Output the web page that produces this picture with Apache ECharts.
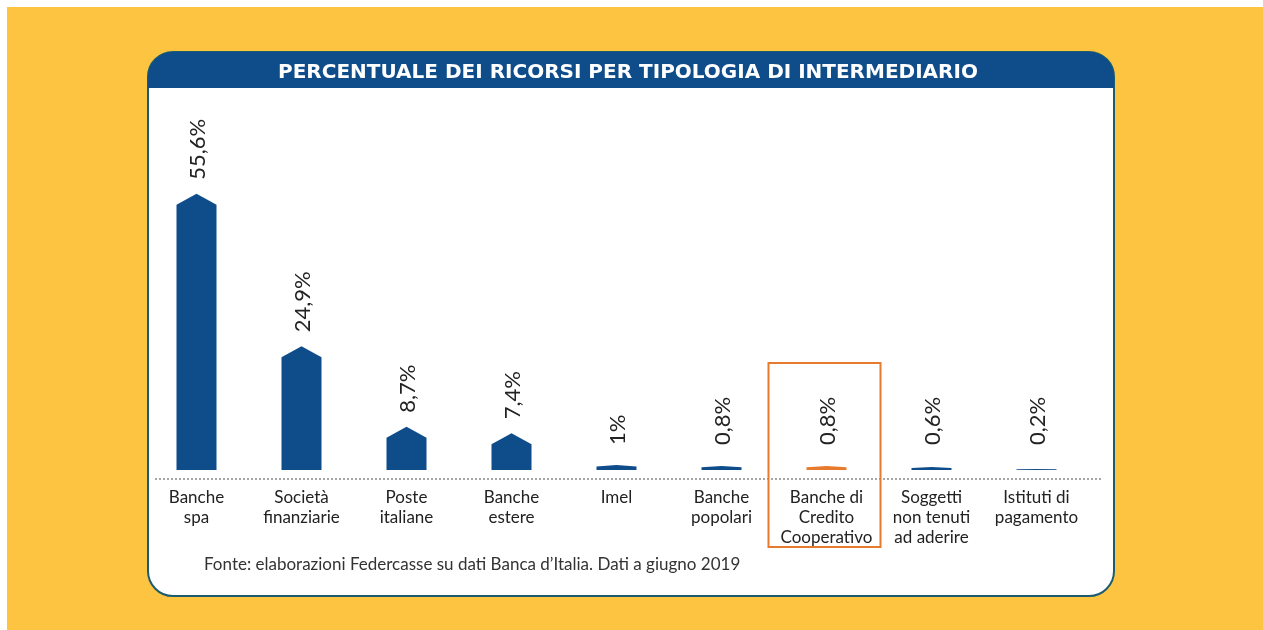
<!DOCTYPE html>
<html><head><meta charset="utf-8">
<script src="https://cdn.jsdelivr.net/npm/echarts@6/dist/echarts.min.js"></script>
<style>html,body{margin:0;padding:0;background:#fff;}#c{width:1263px;height:630px;}</style>
</head><body><div id="c"></div>
<script>
const categories = ["Banche\nspa","Società\nfinanziarie","Poste\nitaliane","Banche\nestere","Imel","Banche\npopolari","Banche di\nCredito\nCooperativo","Soggetti\nnon tenuti\nad aderire","Istituti di\npagamento"];
const values = [55.6, 24.9, 8.7, 7.4, 1, 0.8, 0.8, 0.6, 0.2];
const valueLabels = ["55,6%","24,9%","8,7%","7,4%","1%","0,8%","0,8%","0,6%","0,2%"];
const highlightIndex = 6;
const title = "PERCENTUALE DEI RICORSI PER TIPOLOGIA DI INTERMEDIARIO";
const source = "Fonte: elaborazioni Federcasse su dati Banca d’Italia. Dati a giugno 2019";

const BLUE = '#0E4C8A', ORANGE = '#E87A2E', YELLOW = '#FCC440', FONT = 'Lato, "Open Sans", sans-serif';
const chart = echarts.init(document.getElementById('c'), null, {renderer:'canvas'});

function renderItem(params, api) {
  const idx = api.value(0), v = api.value(1);
  const base = api.coord([idx, 0]), top = api.coord([idx, v]);
  const cx = base[0], w = 40, h = base[1] - top[1];
  const peak = Math.min(11, h * 0.3);
  const color = idx === highlightIndex ? ORANGE : BLUE;
  const labelY = Math.min(top[1] - 14, base[1] - 25);
  return {
    type: 'group',
    children: [
      { type: 'polygon', shape: { points: [[cx - w/2, base[1]], [cx - w/2, top[1] + peak], [cx, top[1]], [cx + w/2, top[1] + peak], [cx + w/2, base[1]]] },
        style: { fill: color } },
      { type: 'text', x: cx + 1, y: labelY, rotation: Math.PI / 2,
        style: { text: valueLabels[idx], fill: '#222', font: '22px ' + FONT, align: 'left', verticalAlign: 'middle' } }
    ]
  };
}

const option = {
  animation: false,
  backgroundColor: '#fff',
  grid: { left: 144, right: 174, top: 172, bottom: 160 },
  xAxis: { type: 'category', data: categories, axisLine: { show: false }, axisTick: { show: false },
    axisLabel: { margin: 18, fontSize: 17, lineHeight: 20, color: '#222', fontFamily: FONT, interval: 0 } },
  yAxis: { type: 'value', min: 0, max: 60, show: false, splitLine: { show: false } },
  graphic: [
    { type: 'rect', z: -10, shape: { x: 7, y: 7, width: 1256, height: 623 }, style: { fill: YELLOW } },
    { type: 'rect', z: -9, shape: { x: 148, y: 52, width: 966, height: 544, r: 25 }, style: { fill: '#fff', stroke: '#1B5C70', lineWidth: 2 } },
    { type: 'rect', z: -8, shape: { x: 148, y: 52, width: 966, height: 36, r: [25, 25, 0, 0] }, style: { fill: BLUE } },
    { type: 'text', z: 5, x: 628, y: 73, style: { text: title, fill: '#fff', font: 'bold 20px "DejaVu Sans", sans-serif', align: 'center', verticalAlign: 'middle' } },
    { type: 'line', z: 5, shape: { x1: 155, y1: 479, x2: 1103, y2: 479 }, style: { stroke: '#888', lineWidth: 1.5, lineDash: [2, 2] } },
    { type: 'text', z: 5, x: 204, y: 565, style: { text: source, fill: '#333', font: '17px ' + FONT, align: 'left', verticalAlign: 'middle' } }
  ],
  series: [{ type: 'custom', renderItem: renderItem, data: values.map((v, i) => [i, v]) }]
};
chart.setOption(option);
const hx = chart.convertToPixel({ xAxisIndex: 0 }, categories[highlightIndex]);
chart.setOption({ graphic: option.graphic.concat([
  { type: 'rect', z: 5, shape: { x: hx - 58, y: 363, width: 112, height: 184 }, style: { fill: 'none', stroke: ORANGE, lineWidth: 2 } }
]) });
</script></body></html>
